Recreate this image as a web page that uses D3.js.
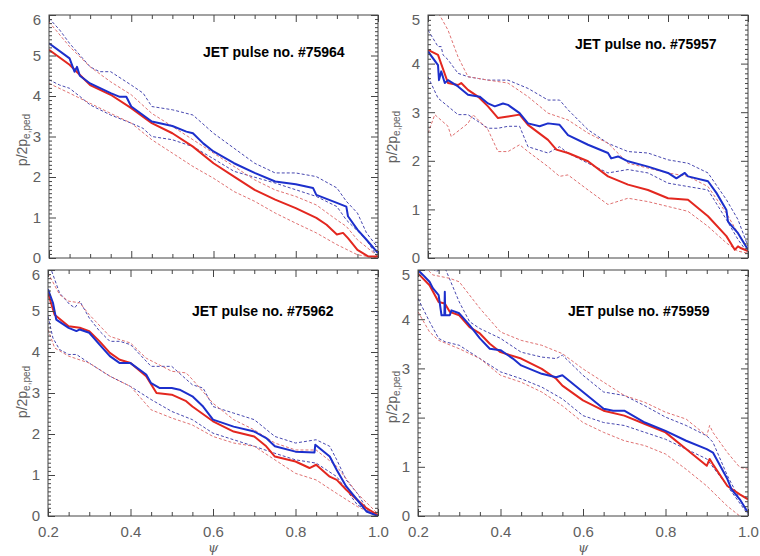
<!DOCTYPE html>
<html>
<head>
<meta charset="utf-8">
<title>JET pressure profiles</title>
<script src="https://cdn.jsdelivr.net/npm/d3@7/dist/d3.min.js"></script>
<style>
    body { margin: 0; background: #fff; }
    .tick text { font-family: "Liberation Sans", Arial, sans-serif; font-size: 15px; fill: #606060; }
    .tick line { stroke: #444; }
    .title { font-family: "Liberation Sans", Arial, sans-serif; font-size: 14px; font-weight: bold; fill: #000; }
    .ylab { font-family: "Liberation Sans", Arial, sans-serif; font-size: 14px; fill: #606060; }
    .xlab { font-family: "DejaVu Serif", serif; font-style: italic; font-size: 13px; fill: #606060; }
</style>
</head>
<body>
<svg id="chart" width="760" height="556"></svg>
<script>
// psi axis ticks
const psiMajor = [0.2, 0.4, 0.6, 0.8, 1.0];
const psiMinor = [0.25, 0.3, 0.35, 0.45, 0.5, 0.55, 0.65, 0.7, 0.75, 0.85, 0.9, 0.95];
const pulseNames = ["JET pulse no. #75964", "JET pulse no. #75957", "JET pulse no. #75962", "JET pulse no. #75959"];
const yMaxes = [6, 5, 6, 5];

// each series: [psi, p/2p_e,ped]
// pulse 75964
const p1Blue = [[0.2,5.3],[0.25,4.93],[0.262,4.6],[0.268,4.72],[0.275,4.5],[0.3,4.31],[0.35,4.07],[0.372,3.98],[0.388,3.98],[0.4,3.74],[0.45,3.37],[0.5,3.26],[0.534,3.12],[0.55,3.08],[0.575,2.83],[0.6,2.63],[0.65,2.34],[0.7,2.1],[0.75,1.89],[0.8,1.82],[0.842,1.73],[0.85,1.56],[0.9,1.36],[0.923,1.27],[0.927,1.03],[0.95,0.7],[0.972,0.45],[1.0,0.12]];
const p1Red = [[0.2,5.14],[0.25,4.77],[0.3,4.27],[0.35,4.03],[0.4,3.7],[0.45,3.33],[0.5,3.08],[0.55,2.75],[0.6,2.34],[0.65,2.01],[0.7,1.68],[0.75,1.44],[0.8,1.23],[0.85,0.99],[0.875,0.82],[0.9,0.58],[0.915,0.62],[0.927,0.49],[0.95,0.2],[0.976,0.04],[1.0,0.04]];
const p1BlueHi = [[0.2,5.92],[0.226,5.63],[0.25,5.3],[0.3,4.72],[0.323,4.6],[0.35,4.6],[0.4,4.27],[0.429,4.07],[0.45,3.74],[0.5,3.66],[0.55,3.53],[0.6,3.08],[0.65,2.71],[0.7,2.34],[0.75,2.1],[0.8,2.1],[0.85,2.01],[0.9,1.73],[0.923,1.4],[0.95,1.11],[0.972,0.62],[1.0,0.25]];
const p1BlueLo = [[0.2,4.4],[0.226,4.27],[0.25,4.19],[0.275,3.99],[0.3,3.78],[0.35,3.53],[0.4,3.33],[0.429,3.2],[0.45,3.0],[0.5,2.92],[0.55,2.75],[0.6,2.45],[0.65,2.14],[0.75,1.85],[0.85,1.52],[0.9,1.27],[0.923,0.94],[0.972,0.45],[1.0,0.0]];
const p1RedHi = [[0.2,5.83],[0.25,5.22],[0.3,4.72],[0.35,4.35],[0.4,4.03],[0.45,3.57],[0.5,3.25],[0.55,2.92],[0.6,2.59],[0.65,2.26],[0.7,1.93],[0.75,1.68],[0.8,1.52],[0.85,1.31],[0.9,0.94],[0.923,0.78],[0.95,0.45],[1.0,0.04]];
const p1RedLo = [[0.2,4.31],[0.25,4.07],[0.3,3.82],[0.35,3.57],[0.4,3.33],[0.45,2.92],[0.5,2.59],[0.55,2.26],[0.6,1.97],[0.65,1.64],[0.7,1.4],[0.75,1.11],[0.8,0.86],[0.85,0.62],[0.9,0.33],[0.95,0.08],[1.0,0.0]];

// pulse 75957
const p2Blue = [[0.2,4.25],[0.225,3.97],[0.2275,3.66],[0.233,3.84],[0.242,3.6],[0.25,3.66],[0.275,3.53],[0.3,3.36],[0.329,3.32],[0.35,3.18],[0.367,3.12],[0.3875,3.18],[0.4,3.15],[0.429,2.98],[0.45,2.77],[0.479,2.71],[0.5,2.77],[0.529,2.74],[0.55,2.53],[0.6,2.33],[0.65,2.16],[0.658,2.05],[0.675,2.09],[0.7,1.99],[0.75,1.88],[0.8,1.75],[0.821,1.64],[0.842,1.75],[0.85,1.68],[0.9,1.58],[0.921,1.34],[0.946,0.99],[0.95,0.75],[0.975,0.51],[1.0,0.17]];
const p2Red = [[0.2,4.28],[0.225,4.18],[0.25,3.6],[0.275,3.56],[0.283,3.6],[0.3,3.46],[0.325,3.32],[0.35,3.12],[0.375,2.88],[0.4,2.91],[0.429,2.95],[0.45,2.74],[0.5,2.43],[0.521,2.23],[0.55,2.16],[0.6,1.99],[0.65,1.68],[0.7,1.51],[0.75,1.4],[0.8,1.23],[0.85,1.2],[0.9,0.86],[0.946,0.45],[0.967,0.17],[0.975,0.24],[0.983,0.2],[1.0,0.14]];
const p2BlueHi = [[0.2,4.69],[0.225,4.35],[0.233,4.35],[0.2375,4.18],[0.25,4.08],[0.275,3.8],[0.3,3.73],[0.35,3.66],[0.4,3.66],[0.45,3.49],[0.5,3.25],[0.529,3.25],[0.55,3.05],[0.6,2.64],[0.65,2.36],[0.7,2.19],[0.75,2.16],[0.8,2.02],[0.85,1.95],[0.9,1.75],[0.946,1.2],[0.975,0.79],[1.0,0.24]];
const p2BlueLo = [[0.2,3.73],[0.225,3.29],[0.25,3.12],[0.275,2.95],[0.3,2.95],[0.35,2.67],[0.375,2.67],[0.4,2.71],[0.429,2.71],[0.45,2.29],[0.5,2.16],[0.529,2.29],[0.55,2.16],[0.6,1.95],[0.65,1.75],[0.7,1.82],[0.75,1.75],[0.8,1.54],[0.85,1.47],[0.9,1.4],[0.946,0.79],[0.975,0.38],[1.0,0.1]];
const p2RedHi = [[0.2,5.5],[0.229,5.0],[0.25,4.69],[0.275,4.14],[0.3,3.73],[0.35,3.66],[0.4,3.6],[0.45,3.32],[0.5,2.98],[0.55,2.84],[0.6,2.57],[0.65,2.36],[0.7,1.95],[0.75,1.85],[0.8,1.75],[0.85,1.68],[0.9,1.47],[0.946,0.92],[0.975,0.51],[1.0,0.17]];
const p2RedLo = [[0.2,2.57],[0.217,2.95],[0.25,2.71],[0.258,2.5],[0.3,2.77],[0.3125,2.95],[0.35,2.64],[0.375,2.19],[0.4,2.19],[0.429,2.33],[0.45,2.19],[0.5,1.88],[0.529,1.68],[0.55,1.71],[0.6,1.4],[0.65,1.1],[0.7,1.23],[0.75,1.16],[0.8,1.06],[0.85,0.96],[0.9,0.65],[0.946,0.31],[0.975,0.14],[1.0,0.1]];

// pulse 75962
const p3Blue = [[0.2,5.53],[0.212,5.2],[0.22,4.79],[0.25,4.59],[0.269,4.51],[0.277,4.55],[0.3,4.47],[0.325,4.18],[0.35,3.9],[0.374,3.73],[0.4,3.73],[0.438,3.45],[0.45,3.24],[0.471,3.12],[0.5,3.12],[0.519,3.08],[0.55,2.92],[0.576,2.67],[0.6,2.35],[0.65,2.18],[0.7,2.06],[0.729,1.9],[0.75,1.7],[0.8,1.57],[0.846,1.55],[0.848,1.74],[0.883,1.45],[0.9,1.12],[0.923,0.72],[0.95,0.39],[0.972,0.11],[1.0,0.0]];
const p3Red = [[0.2,5.44],[0.216,4.91],[0.25,4.63],[0.277,4.59],[0.3,4.51],[0.325,4.26],[0.35,3.98],[0.374,3.81],[0.4,3.73],[0.438,3.41],[0.463,3.0],[0.5,2.96],[0.535,2.8],[0.55,2.67],[0.6,2.31],[0.65,2.06],[0.7,1.94],[0.729,1.7],[0.75,1.45],[0.8,1.33],[0.834,1.17],[0.85,1.25],[0.883,0.96],[0.9,0.88],[0.923,0.64],[0.95,0.39],[0.972,0.19],[1.0,0.02]];
const p3BlueHi = [[0.2,6.2],[0.208,6.0],[0.228,5.44],[0.2525,5.16],[0.265,5.08],[0.277,5.24],[0.3,4.83],[0.325,4.51],[0.35,4.26],[0.374,4.26],[0.4,4.18],[0.45,3.65],[0.5,3.65],[0.55,3.2],[0.576,3.12],[0.6,2.67],[0.65,2.51],[0.7,2.35],[0.75,1.94],[0.8,1.78],[0.85,1.86],[0.883,1.7],[0.9,1.37],[0.923,0.88],[0.95,0.55],[0.972,0.19],[1.0,0.02]];
const p3BlueLo = [[0.2,4.87],[0.212,4.34],[0.228,4.06],[0.25,3.94],[0.269,3.94],[0.3,3.73],[0.35,3.41],[0.4,3.16],[0.45,2.84],[0.5,2.55],[0.55,2.35],[0.6,2.02],[0.65,1.86],[0.7,1.7],[0.75,1.53],[0.8,1.37],[0.85,1.29],[0.9,0.96],[0.923,0.64],[0.95,0.27],[1.0,0.0]];
const p3RedHi = [[0.2,5.93],[0.228,5.4],[0.25,5.24],[0.277,5.2],[0.3,4.91],[0.35,4.38],[0.4,4.22],[0.438,3.85],[0.5,3.53],[0.535,3.49],[0.55,3.33],[0.6,2.75],[0.65,2.35],[0.7,2.1],[0.75,1.78],[0.8,1.61],[0.85,1.61],[0.9,1.21],[0.95,0.55],[1.0,0.05]];
const p3RedLo = [[0.2,4.55],[0.216,4.1],[0.25,3.9],[0.3,3.73],[0.35,3.41],[0.4,3.16],[0.45,2.59],[0.5,2.39],[0.55,2.22],[0.6,1.94],[0.65,1.78],[0.7,1.7],[0.75,1.37],[0.8,1.04],[0.85,0.88],[0.9,0.55],[0.95,0.23],[1.0,0.0]];

// pulse 75959
const p4Blue = [[0.2,5.0],[0.212,4.9],[0.228,4.76],[0.236,4.63],[0.25,4.49],[0.257,4.08],[0.264,4.08],[0.265,4.56],[0.266,4.08],[0.277,4.08],[0.281,4.18],[0.3,4.12],[0.325,3.88],[0.35,3.61],[0.374,3.4],[0.4,3.37],[0.43,3.2],[0.45,3.06],[0.5,2.89],[0.535,2.82],[0.55,2.86],[0.6,2.52],[0.65,2.18],[0.673,2.14],[0.7,2.14],[0.75,1.9],[0.8,1.73],[0.85,1.53],[0.9,1.36],[0.915,1.29],[0.95,0.75],[0.96,0.54],[0.98,0.34],[1.0,0.07]];
const p4Red = [[0.2,4.93],[0.228,4.69],[0.25,4.35],[0.265,4.32],[0.277,4.15],[0.3,4.08],[0.325,3.84],[0.35,3.71],[0.374,3.5],[0.4,3.33],[0.45,3.2],[0.5,2.99],[0.535,2.79],[0.55,2.65],[0.6,2.35],[0.65,2.14],[0.7,2.04],[0.75,1.87],[0.8,1.7],[0.85,1.36],[0.9,1.02],[0.907,1.16],[0.915,1.05],[0.95,0.61],[0.98,0.44],[1.0,0.34]];
const p4BlueHi = [[0.2,5.3],[0.244,4.97],[0.265,5.05],[0.3,4.35],[0.325,3.95],[0.35,3.81],[0.4,3.61],[0.45,3.33],[0.5,3.23],[0.535,3.2],[0.55,3.27],[0.6,2.86],[0.65,2.52],[0.7,2.45],[0.75,2.24],[0.8,2.01],[0.85,1.84],[0.9,1.63],[0.915,1.5],[0.95,0.82],[0.98,0.34],[1.0,0.07]];
const p4BlueLo = [[0.2,4.42],[0.228,3.95],[0.25,3.61],[0.266,3.54],[0.3,3.47],[0.35,3.2],[0.4,2.93],[0.45,2.79],[0.5,2.62],[0.55,2.38],[0.6,2.04],[0.65,1.9],[0.7,1.84],[0.75,1.7],[0.8,1.56],[0.85,1.36],[0.9,1.16],[0.95,0.61],[1.0,0.03]];
const p4RedHi = [[0.2,5.2],[0.236,4.9],[0.277,4.83],[0.3,4.76],[0.325,4.49],[0.35,4.22],[0.4,3.74],[0.45,3.57],[0.5,3.47],[0.55,3.3],[0.6,2.99],[0.65,2.72],[0.7,2.45],[0.75,2.31],[0.8,2.11],[0.85,1.97],[0.9,1.63],[0.907,1.84],[0.915,1.7],[0.95,1.29],[0.98,0.99],[1.0,0.95]];
const p4RedLo = [[0.2,4.15],[0.228,3.74],[0.25,3.57],[0.3,3.4],[0.35,3.2],[0.4,2.86],[0.45,2.72],[0.5,2.52],[0.55,2.24],[0.6,1.9],[0.65,1.7],[0.7,1.53],[0.75,1.43],[0.8,1.26],[0.85,0.95],[0.9,0.61],[0.95,0.2],[0.98,0.0],[1.0,-0.1]];

const svg = d3.select('#chart');

// plot boxes (pixels) for the four panels
const panels = [
    { x0: 49,  x1: 378, y0: 15,  y1: 258, xLabels: false, titleX: 203, titleY: 57,  labX: 22,  labY: 140,
      series: [p1BlueHi, p1BlueLo, p1RedHi, p1RedLo, p1Red, p1Blue] },
    { x0: 428, x1: 748, y0: 15,  y1: 258, xLabels: false, titleX: 575, titleY: 49,  labX: 392, labY: 137,
      series: [p2BlueHi, p2BlueLo, p2RedHi, p2RedLo, p2Red, p2Blue] },
    { x0: 48,  x1: 378, y0: 270, y1: 516, xLabels: true,  titleX: 192, titleY: 316, labX: 22,  labY: 392,
      series: [p3BlueHi, p3BlueLo, p3RedHi, p3RedLo, p3Red, p3Blue] },
    { x0: 418, x1: 748, y0: 270, y1: 516, xLabels: true,  titleX: 568, titleY: 316, labX: 392, labY: 397,
      series: [p4BlueHi, p4BlueLo, p4RedHi, p4RedLo, p4Red, p4Blue] }
];
const seriesStyle = [
    { color: '#4848b0', width: 1, dash: '3,2' },
    { color: '#4848b0', width: 1, dash: '3,2' },
    { color: '#e07272', width: 1, dash: '3,2' },
    { color: '#e07272', width: 1, dash: '3,2' },
    { color: '#e3271f', width: 2, dash: null },
    { color: '#1c2fcc', width: 2, dash: null }
];

panels.forEach(function(p, i) {
    const yMax = yMaxes[i];
    const x = d3.scaleLinear().domain([0.2, 1.0]).range([p.x0, p.x1]);
    const y = d3.scaleLinear().domain([0, yMax]).range([p.y1, p.y0]);
    const g = svg.append('g');

    g.append('clipPath').attr('id', 'clip' + i)
        .append('rect')
        .attr('x', p.x0).attr('y', p.y0)
        .attr('width', p.x1 - p.x0).attr('height', p.y1 - p.y0);

    const line = d3.line()
        .x(function(d) { return x(d[0]); })
        .y(function(d) { return y(d[1]); });

    p.series.forEach(function(s, k) {
        const st = seriesStyle[k];
        g.append('path')
            .datum(s)
            .attr('clip-path', 'url(#clip' + i + ')')
            .attr('fill', 'none')
            .attr('stroke', st.color)
            .attr('stroke-width', st.width)
            .attr('stroke-dasharray', st.dash)
            .attr('stroke-linejoin', 'round')
            .attr('d', line);
    });

    const yMinor = d3.range(1, yMax * 10).map(function(v) { return v / 10; })
        .filter(function(v) { return v % 1 !== 0; });
    const yMajor = d3.range(0, yMax + 1);
    const noDomain = function(sel) { sel.select('.domain').remove(); };

    // bottom
    g.append('g').attr('transform', 'translate(0,' + p.y1 + ')')
        .call(d3.axisBottom(x).tickValues(psiMajor).tickSize(-7).tickPadding(10)
            .tickFormat(p.xLabels ? d3.format('.1f') : ''))
        .call(noDomain);
    g.append('g').attr('transform', 'translate(0,' + p.y1 + ')')
        .call(d3.axisBottom(x).tickValues(psiMinor).tickSize(-4).tickFormat(''))
        .call(noDomain);
    // top
    g.append('g').attr('transform', 'translate(0,' + p.y0 + ')')
        .call(d3.axisTop(x).tickValues(psiMajor).tickSize(-7).tickFormat(''))
        .call(noDomain);
    g.append('g').attr('transform', 'translate(0,' + p.y0 + ')')
        .call(d3.axisTop(x).tickValues(psiMinor).tickSize(-4).tickFormat(''))
        .call(noDomain);
    // left
    const left = g.append('g').attr('transform', 'translate(' + p.x0 + ',0)')
        .call(d3.axisLeft(y).tickValues(yMajor).tickSize(-7).tickPadding(8).tickFormat(d3.format('d')))
        .call(noDomain);
    // top label sits a little below its tick, as in the original plot
    left.selectAll('.tick text').filter(function(d) { return d === yMax; }).attr('y', 5);
    g.append('g').attr('transform', 'translate(' + p.x0 + ',0)')
        .call(d3.axisLeft(y).tickValues(yMinor).tickSize(-3).tickFormat(''))
        .call(noDomain);
    // right
    g.append('g').attr('transform', 'translate(' + p.x1 + ',0)')
        .call(d3.axisRight(y).tickValues(yMajor).tickSize(-7).tickFormat(''))
        .call(noDomain);
    g.append('g').attr('transform', 'translate(' + p.x1 + ',0)')
        .call(d3.axisRight(y).tickValues(yMinor).tickSize(-3).tickFormat(''))
        .call(noDomain);

    g.append('rect')
        .attr('x', p.x0).attr('y', p.y0)
        .attr('width', p.x1 - p.x0).attr('height', p.y1 - p.y0)
        .attr('fill', 'none').attr('stroke', '#444').attr('stroke-width', 1);

    g.append('text')
        .attr('class', 'title')
        .attr('x', p.titleX).attr('y', p.titleY)
        .text(pulseNames[i]);

    const lab = g.append('text')
        .attr('class', 'ylab')
        .attr('transform', 'translate(' + p.labX + ',' + p.labY + ') rotate(-90)')
        .attr('text-anchor', 'middle')
        .attr('dy', '0.35em');
    lab.append('tspan').text('p/2p');
    lab.append('tspan').attr('font-size', '10px').attr('dy', '3').text('e,ped');

    if (p.xLabels) {
        g.append('text')
            .attr('class', 'xlab')
            .attr('x', (p.x0 + p.x1) / 2).attr('y', 552)
            .attr('text-anchor', 'middle')
            .text('ψ');
    }
});
</script>
</body>
</html>
